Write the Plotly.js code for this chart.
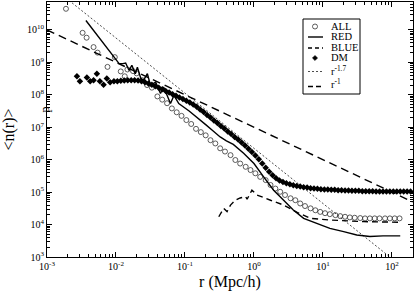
<!DOCTYPE html>
<html>
<head>
<meta charset="utf-8">
<script src="https://cdn.plot.ly/plotly-3.0.1.min.js"></script>
<style>html,body{margin:0;padding:0;background:#fff;}#plot{width:415px;height:293px;}</style>
</head>
<body>
<div id="plot"></div>
<script>
// values, as log10(r) and log10(<n(r)>_p)
var allLogR = [-2.725,-2.484,-2.426,-2.325,-2.267,-2.123,-2.017,-1.931,-1.873,-1.834,-1.753,-1.70,
  -1.62,-1.55,-1.48,-1.40,-1.33,-1.26,-1.19,-1.12,-1.05,-0.98,-0.91,-0.84,-0.77,-0.70,-0.63,-0.56,-0.49,-0.42,
  -0.34,-0.27,-0.20,-0.12,-0.05,0.02,0.09,0.17,0.24,0.31,0.38,0.45,0.53,0.60,0.67,0.74,0.82,0.89,0.96,1.03,
  1.10,1.18,1.25,1.32,1.39,1.46,1.54,1.61,1.68,1.75,1.82,1.90,1.97,2.04,2.11];
var allLogN = [10.65,9.91,9.76,9.47,9.30,8.86,9.16,8.72,8.57,8.78,8.73,8.66,
  8.45,8.30,8.22,7.95,7.85,7.74,7.58,7.46,7.35,7.22,7.10,6.95,6.85,6.75,6.60,6.50,6.35,6.25,
  6.14,5.99,5.88,5.78,5.68,5.58,5.47,5.37,5.22,5.11,5.01,4.91,4.81,4.75,4.65,4.57,4.50,4.44,4.39,4.35,
  4.32,4.29,4.26,4.24,4.22,4.21,4.20,4.19,4.19,4.19,4.19,4.19,4.19,4.19,4.19];

var redLogR = [-2.436,-1.955,-1.90,-1.86,-1.81,-1.77,-1.72,-1.69,-1.64,-1.60,-1.545,-1.50,-1.425,-1.355,-1.31,
  -1.21,-1.16,-1.09,-0.94,-0.82,-0.70,-0.60,-0.49,-0.40,-0.30,-0.15,0.0,0.14,0.285,0.43,0.57,0.72,0.91,1.10,1.30,1.49,1.68,1.87,2.12];
var redLogN = [10.29,8.96,8.96,8.98,8.75,8.91,8.65,8.85,8.50,8.45,8.65,8.29,8.39,8.04,8.24,
  7.73,7.98,7.73,7.50,7.30,7.08,6.90,6.70,6.58,6.47,6.20,5.88,5.47,5.06,4.75,4.45,4.19,4.04,3.88,3.78,3.68,3.63,3.65,3.65];

var blueLogR = [-0.51,-0.44,-0.39,-0.34,-0.27,-0.20,-0.12,-0.10,-0.03,0.045,0.24,0.43,0.62,0.82,1.10,1.59,2.12];
var blueLogN = [4.24,4.50,4.40,4.60,4.75,4.82,4.86,4.78,5.06,4.91,4.75,4.60,4.38,4.19,4.14,4.09,4.07];

var dmLogR = [-2.566,-2.523,-2.422,-2.374,-2.325,-2.277,-2.234,-2.18,-2.133,-2.085,-2.03,
  -1.98,-1.93,-1.88,-1.83,-1.78,-1.73,-1.68,-1.63,-1.58,-1.53,-1.48,-1.43,-1.38,-1.33,-1.28,-1.23,-1.18,-1.13,
  -1.08,-1.03,-0.98,-0.93,-0.88,-0.83,-0.78,-0.73,-0.68,-0.63,-0.58,-0.53,-0.48,-0.43,-0.38,-0.33,-0.28,-0.23,
  -0.18,-0.13,-0.08,-0.03,0.02,0.07,0.12,0.17,0.22,0.27,0.32,0.37,0.42,0.47,0.52,0.57,0.62,0.67,0.72,0.77,
  0.82,0.87,0.92,0.97,1.02,1.07,1.12,1.17,1.22,1.27,1.32,1.37,1.42,1.47,1.52,1.57,1.62,1.67,1.72,1.77,1.82,
  1.87,1.92,1.97,2.02,2.07,2.12,2.17,2.22,2.27];
var dmLogN = [8.57,8.415,8.53,8.415,8.446,8.65,8.415,8.31,8.50,8.39,8.415,
  8.42,8.43,8.44,8.45,8.45,8.45,8.44,8.42,8.39,8.35,8.31,8.26,8.22,8.17,8.12,8.07,8.02,7.97,
  7.92,7.87,7.82,7.76,7.70,7.63,7.55,7.47,7.38,7.30,7.21,7.13,7.04,6.96,6.87,6.79,6.70,6.62,
  6.53,6.44,6.34,6.24,6.13,6.01,5.88,5.75,5.63,5.52,5.43,5.36,5.31,5.27,5.24,5.21,5.19,5.17,5.15,5.14,
  5.12,5.11,5.10,5.09,5.08,5.08,5.07,5.07,5.06,5.06,5.05,5.05,5.04,5.04,5.04,5.03,5.03,5.03,5.03,5.02,5.02,
  5.02,5.02,5.02,5.02,5.02,5.02,5.02,5.02,5.02];

// reference power laws, end points
var p17R = [0.001, 200];
var p17N = [2.82e11, 274];
var p1R = [0.001, 200];
var p1N = [1e10, 5e4];

var xTickVals = [1e-3, 1e-2, 1e-1, 1, 10, 100];
var xTickText = ['10<sup>-3</sup>', '10<sup>-2</sup>', '10<sup>-1</sup>', '10<sup>0</sup>', '10<sup>1</sup>', '10<sup>2</sup>'];
var yTickVals = [1e3, 1e4, 1e5, 1e6, 1e7, 1e8, 1e9, 1e10];
var yTickText = ['10<sup>3</sup>', '10<sup>4</sup>', '10<sup>5</sup>', '10<sup>6</sup>', '10<sup>7</sup>', '10<sup>8</sup>', '10<sup>9</sup>', '10<sup>10</sup>'];

var legendNames = ['ALL', 'RED', 'BLUE', 'DM', 'r<sup>-1.7</sup>', 'r<sup>-1</sup>'];

function pw(a){ return a.map(function(v){ return Math.pow(10, v); }); }
function minorTicks(vals){
  var out = [];
  vals.forEach(function(d){ for (var k = 2; k <= 9; k++) out.push(k * d); });
  return out;
}

var serif = 'Liberation Serif, Times New Roman, serif';

var traces = [
  {x: pw(allLogR), y: pw(allLogN), name: legendNames[0], mode: 'markers', type: 'scatter',
   marker: {symbol: 'circle-open', size: 5, color: '#333', line: {width: 0.8, color: '#333'}}},
  {x: pw(redLogR), y: pw(redLogN), name: legendNames[1], mode: 'lines', type: 'scatter',
   line: {color: '#000', width: 1.4}},
  {x: pw(blueLogR), y: pw(blueLogN), name: legendNames[2], mode: 'lines', type: 'scatter',
   line: {color: '#000', width: 1.4, dash: '6px,4px'}},
  {x: pw(dmLogR), y: pw(dmLogN), name: legendNames[3], mode: 'markers', type: 'scatter',
   marker: {symbol: 'diamond', size: 5, color: '#000'}},
  {x: p17R, y: p17N, name: legendNames[4], mode: 'lines', type: 'scatter',
   line: {color: '#000', width: 0.7, dash: '2px,2px'}},
  {x: p1R, y: p1N, name: legendNames[5], mode: 'lines', type: 'scatter',
   line: {color: '#000', width: 1.4, dash: '8px,5px'}}
];

// plot area in pixels (for the hand-made legend box)
var L = 47, R = 413, T = 2, B = 257;
function px(x){ return (x - L) / (R - L); }
function py(y){ return (B - y) / (B - T); }

var shapes = [
  {type: 'rect', xref: 'paper', yref: 'paper', x0: px(303), x1: px(360), y0: py(94), y1: py(19),
   line: {color: '#000', width: 1}, fillcolor: '#fff', layer: 'above'},
  {type: 'circle', xref: 'paper', yref: 'paper', xsizemode: 'pixel', ysizemode: 'pixel',
   xanchor: px(315), yanchor: py(26.5), x0: -2.5, x1: 2.5, y0: -2.5, y1: 2.5,
   line: {color: '#333', width: 0.8}, layer: 'above'},
  {type: 'line', xref: 'paper', yref: 'paper', x0: px(308), x1: px(323), y0: py(37), y1: py(37),
   line: {color: '#000', width: 1.4}, layer: 'above'},
  {type: 'line', xref: 'paper', yref: 'paper', x0: px(308), x1: px(323), y0: py(48), y1: py(48),
   line: {color: '#000', width: 1.4, dash: '4px,3px'}, layer: 'above'},
  {type: 'path', xref: 'paper', yref: 'paper', xsizemode: 'pixel', ysizemode: 'pixel',
   xanchor: px(315), yanchor: py(58), path: 'M 0 2.6 L 2.6 0 L 0 -2.6 L -2.6 0 Z',
   fillcolor: '#000', line: {color: '#000', width: 0.5}, layer: 'above'},
  {type: 'line', xref: 'paper', yref: 'paper', x0: px(308), x1: px(323), y0: py(71.5), y1: py(71.5),
   line: {color: '#000', width: 0.7, dash: '2px,2px'}, layer: 'above'},
  {type: 'line', xref: 'paper', yref: 'paper', x0: px(308), x1: px(323), y0: py(86.5), y1: py(86.5),
   line: {color: '#000', width: 1.4, dash: '5px,3px'}, layer: 'above'}
];

var legYs = [26, 37, 47.5, 57.5, 70, 84];
var annotations = legendNames.map(function(t, i){
  return {text: t, xref: 'paper', yref: 'paper', x: px(329), y: py(legYs[i]),
          xanchor: 'left', yanchor: 'middle', showarrow: false,
          font: {family: serif, size: 10.5, color: '#000'}};
});
annotations.push({text: 'p', xref: 'paper', yref: 'paper', x: px(44.5), y: py(110),
  xanchor: 'center', yanchor: 'middle', showarrow: false, textangle: -90,
  font: {family: serif, size: 12, color: '#000'}});

var axisCommon = {
  type: 'log', tickmode: 'array',
  ticks: 'inside', ticklen: 5, tickwidth: 1, tickcolor: '#000',
  showline: true, linecolor: '#000', linewidth: 1, mirror: 'allticks',
  showgrid: false, zeroline: false,
  tickfont: {family: serif, size: 10, color: '#000'}
};
var minorCommon = {tickmode: 'array', ticks: 'inside', ticklen: 3, tickcolor: '#000', tickwidth: 1, showgrid: false};

var layout = {
  width: 415, height: 293,
  margin: {l: L, r: 415 - R, t: T, b: 293 - B},
  paper_bgcolor: '#fff', plot_bgcolor: '#fff',
  showlegend: false,
  xaxis: Object.assign({}, axisCommon, {
    range: [-3, 2.305], tickvals: xTickVals, ticktext: xTickText,
    minor: Object.assign({}, minorCommon, {tickvals: minorTicks(xTickVals)}),
    title: {text: 'r (Mpc/h)', font: {family: serif, size: 16, color: '#000'}, standoff: 4}
  }),
  yaxis: Object.assign({}, axisCommon, {
    range: [3, 10.86], tickvals: yTickVals, ticktext: yTickText,
    minor: Object.assign({}, minorCommon, {tickvals: minorTicks(yTickVals)}),
    title: {text: '&lt;n(r)&gt;', font: {family: serif, size: 16, color: '#000'}, standoff: 11}
  }),
  shapes: shapes,
  annotations: annotations
};

Plotly.newPlot('plot', traces, layout, {staticPlot: true, displayModeBar: false});
</script>
</body>
</html>
